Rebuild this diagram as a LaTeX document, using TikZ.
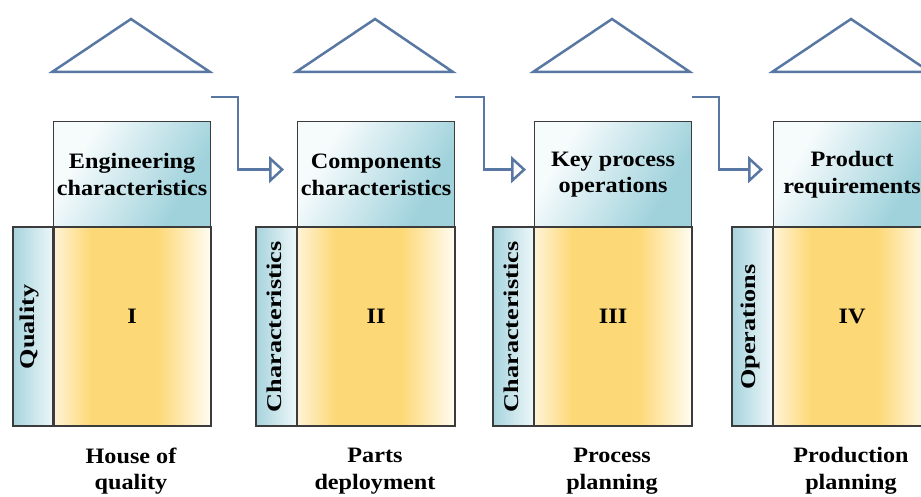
\documentclass[tikz,border=0pt]{standalone}
\usepackage{fontspec}
\setmainfont{Liberation Serif}[FakeStretch=1.1]
\newfontfamily\vfont{Liberation Serif}[FakeStretch=1.25]
\usetikzlibrary{arrows.meta}
\definecolor{lineblue}{RGB}{88,120,163}
\definecolor{boxgray}{RGB}{60,60,60}
\definecolor{tW}{RGB}{246,251,252}
\definecolor{tB}{RGB}{160,210,220}
\definecolor{sB}{RGB}{168,212,222}
\definecolor{sW}{RGB}{238,247,249}
\definecolor{yA}{RGB}{255,243,214}
\definecolor{yB}{RGB}{253,216,118}
\definecolor{yC}{RGB}{255,252,242}
\pgfdeclarehorizontalshading{yelsh}{100bp}{color(0bp)=(yA); color(25bp)=(yA); color(37bp)=(yB); color(58bp)=(yB); color(75bp)=(yC); color(100bp)=(yC)}
\pgfdeclarehorizontalshading{topsh}{100bp}{color(0bp)=(tW); color(30bp)=(tW); color(70bp)=(tB); color(100bp)=(tB)}
\pgfdeclarehorizontalshading{stripsh}{100bp}{color(0bp)=(sB); color(25bp)=(sB); color(75bp)=(sW); color(100bp)=(sW)}
\tikzset{
  txt/.style={font=\fontsize{22}{26.5}\selectfont\bfseries, text=black, align=center, inner sep=0pt},
  roof/.style={draw=lineblue, line width=2.5pt, fill=white, line join=miter},
  topbox/.style={draw=boxgray, line width=1.2pt, shading=topsh, shading angle=-30, anchor=north west, minimum width=157pt, minimum height=106pt, inner sep=0pt, txt},
  mainbox/.style={draw=boxgray, line width=1.2pt, shading=yelsh, anchor=north west, minimum width=157pt, minimum height=198pt, inner sep=0pt},
  stripbox/.style={draw=boxgray, line width=1.2pt, shading=stripsh, anchor=north west, minimum width=40pt, minimum height=198pt, inner sep=0pt},
  vtxt/.style={font=\vfont\fontsize{21}{24}\selectfont\bfseries, rotate=90, inner sep=0pt},
  flow/.style={draw=lineblue, line width=2.5pt, -{Triangle[open, length=15pt, width=27pt, line width=2.5pt]}},
}
\begin{document}
\begin{tikzpicture}[x=1pt, y=-1pt]
\useasboundingbox (0,0) rectangle (921,497);
\clip (0,0) rectangle (921,497);
% module I
\draw[roof] (52,72) -- (131,19) -- (210,72) -- cycle;
\node[topbox] (top1) at (53,121) {Engineering\\characteristics};
\node[stripbox] (strip1) at (13,227) {};
\node[mainbox] (main1) at (53,227) {};
\node[vtxt] (v1) at (29,327) {Quality};
\node[txt] (n1) at ([yshift=10pt]main1.center) {I};
\node[txt] (b1) at (131,471) {House of\\quality};
% module II
\draw[roof] (296,72) -- (375,19) -- (453,72) -- cycle;
\node[topbox] (top2) at (297,121) {Components\\characteristics};
\node[stripbox] (strip2) at (256,227) {};
\node[mainbox] (main2) at (297,227) {};
\node[vtxt] (v2) at (274,327) {Characteristics};
\node[txt] (n2) at ([yshift=10pt]main2.center) {II};
\node[txt] (b2) at (375,471) {Parts\\deployment};
% module III
\draw[roof] (533,72) -- (612,19) -- (690,72) -- cycle;
\node[topbox] (top3) at (534,121) {Key process\\operations};
\node[stripbox] (strip3) at (493,227) {};
\node[mainbox] (main3) at (534,227) {};
\node[vtxt] (v3) at (511,327) {Characteristics};
\node[txt] (n3) at ([yshift=10pt]main3.center) {III};
\node[txt] (b3) at (612,471) {Process\\planning};
% module IV
\draw[roof] (772,72) -- (851,19) -- (930,72) -- cycle;
\node[topbox] (top4) at (773,121) {Product\\requirements};
\node[stripbox] (strip4) at (732,227) {};
\node[mainbox] (main4) at (773,227) {};
\node[vtxt] (v4) at (750,327) {Operations};
\node[txt] (n4) at ([yshift=10pt]main4.center) {IV};
\node[txt] (b4) at (851,471) {Production\\planning};
% redraw strip/main borders on top
\foreach \i in {1,2,3,4}{
  \draw[boxgray, line width=1.2pt] (strip\i.north west) rectangle (strip\i.south east);
  \draw[boxgray, line width=1.2pt] (main\i.north west) rectangle (main\i.south east);
}
% flow arrows
\coordinate (s1) at ([yshift=24pt]top1.north east);
\coordinate (s2) at ([yshift=24pt]top2.north east);
\coordinate (s3) at ([yshift=24pt]top3.north east);
\draw[flow] (s1) -- ++(27,0) |- ([xshift=-13pt,yshift=5pt]top2.west);
\draw[flow] (s2) -- ++(29,0) |- ([xshift=-8pt,yshift=5pt]top3.west);
\draw[flow] (s3) -- ++(27,0) |- ([xshift=-10pt,yshift=5pt]top4.west);
\end{tikzpicture}
\end{document}
